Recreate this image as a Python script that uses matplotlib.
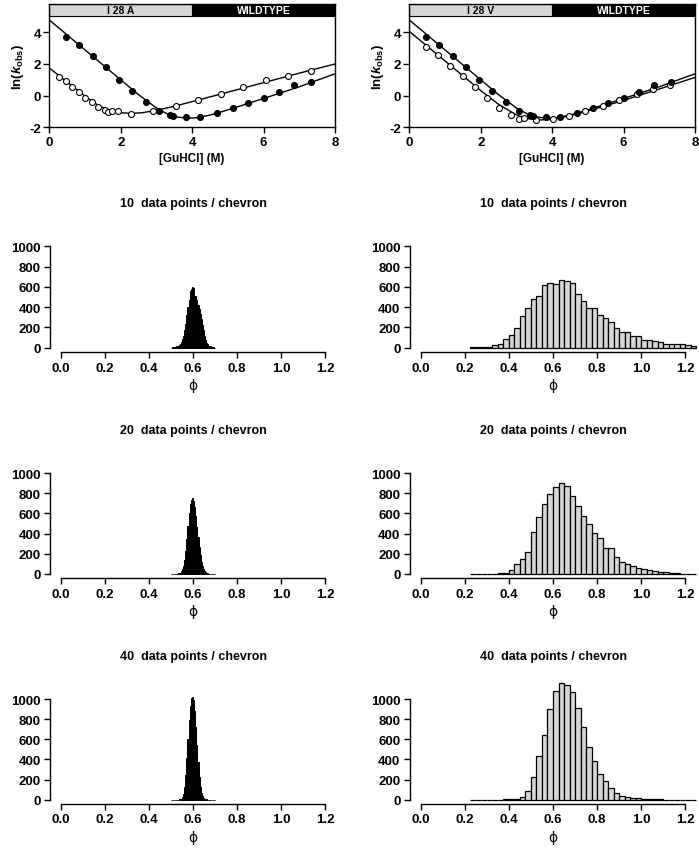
"""
Chevron plots (I28A / I28V vs wildtype) and bootstrap phi-value histograms
for 10, 20 and 40 data points per chevron.

Writes: out.png
"""

import numpy as np
import matplotlib
matplotlib.use("Agg")
import matplotlib.pyplot as plt
from matplotlib.patches import Rectangle

plt.rcParams["font.family"] = ["Liberation Sans", "DejaVu Sans"]
plt.rcParams["font.weight"] = "bold"
plt.rcParams["mathtext.fontset"] = "custom"
plt.rcParams["mathtext.rm"] = "Liberation Sans:bold"
plt.rcParams["mathtext.it"] = "Liberation Sans:italic:bold"
plt.rcParams["mathtext.bf"] = "Liberation Sans:bold"

W, H = 699, 853

# --- chevron data: [GuHCl] (M) and ln(k_obs) ---------------------------------
WT_X = [0.46, 0.83, 1.21, 1.59, 1.95, 2.32, 2.70, 3.07, 3.38, 3.45, 3.82,
        4.22, 4.69, 5.13, 5.55, 6.00, 6.43, 6.86, 7.32]
WT_Y = [3.73, 3.20, 2.53, 1.79, 1.01, 0.29, -0.42, -0.98, -1.22, -1.30, -1.38,
        -1.33, -1.08, -0.79, -0.46, -0.14, 0.26, 0.65, 0.86]
WT_FIT_X = [0.0, 1.0, 2.0, 2.5, 3.0, 3.3, 3.6, 3.9, 4.2, 4.6, 5.0, 6.0, 7.0, 8.0]
WT_FIT_Y = [4.78, 2.89, 1.00, 0.06, -0.78, -1.15, -1.36, -1.43, -1.38, -1.17,
            -0.90, -0.18, 0.56, 1.38]

A_X = [0.28, 0.46, 0.64, 0.83, 1.01, 1.19, 1.37, 1.56, 1.65, 1.75, 1.93,
       2.29, 2.89, 3.55, 4.17, 4.80, 5.42, 6.06, 6.69, 7.32]
A_Y = [1.20, 0.90, 0.57, 0.25, -0.13, -0.42, -0.69, -0.90, -1.05, -0.95, -0.99,
       -1.16, -0.95, -0.63, -0.25, 0.11, 0.53, 1.00, 1.26, 1.54]
A_FIT_X = [0.0, 0.5, 1.0, 1.4, 1.7, 2.0, 2.3, 2.6, 3.0, 3.5, 4.0, 5.0, 6.0, 7.0, 8.0]
A_FIT_Y = [1.75, 0.86, -0.03, -0.66, -0.94, -1.08, -1.12, -1.08, -0.93, -0.67,
           -0.38, 0.22, 0.82, 1.42, 2.00]

V_X = [0.47, 0.81, 1.14, 1.49, 1.84, 2.17, 2.51, 2.85, 3.08, 3.22, 3.54,
       4.01, 4.48, 4.92, 5.41, 5.88, 6.37, 6.82, 7.30]
V_Y = [3.06, 2.55, 1.90, 1.25, 0.55, -0.15, -0.75, -1.20, -1.45, -1.42, -1.55,
       -1.50, -1.30, -1.00, -0.65, -0.28, 0.12, 0.45, 0.65]
V_FIT_X = [0.0, 1.0, 2.0, 2.5, 3.0, 3.3, 3.6, 4.0, 4.5, 5.0, 6.0, 7.0, 8.0]
V_FIT_Y = [4.06, 2.19, 0.32, -0.55, -1.22, -1.45, -1.54, -1.50, -1.27, -0.97,
           -0.30, 0.42, 1.15]

# --- phi histograms ----------------------------------------------------------
NARROW_BINS = np.round(np.arange(0.500, 0.700, 0.005), 3)   # 40 bins
WIDE_BINS = np.round(np.arange(0.225, 1.250, 0.025), 3)     # 41 bins

# I28A (narrow phi distribution)
A10 = [2, 3, 4, 6, 9, 13, 18, 26, 38, 60, 85, 120, 170, 235, 320, 400, 470,
       560, 580, 600, 590, 510, 505, 470, 420, 380, 330, 280, 220, 170, 115,
       80, 50, 35, 22, 15, 10, 6, 4, 2]
A20 = [0, 0, 1, 1, 2, 3, 5, 8, 14, 25, 45, 80, 140, 230, 350, 480, 600, 690,
       735, 750, 720, 660, 570, 470, 370, 270, 185, 120, 75, 45, 27, 16, 9, 5,
       3, 2, 1, 1, 0, 0]
A40 = [0, 0, 0, 0, 0, 0, 1, 2, 4, 10, 25, 60, 130, 250, 410, 600, 790, 930,
       1010, 1025, 990, 880, 720, 540, 370, 230, 130, 70, 35, 16, 8, 4, 2, 1,
       0, 0, 0, 0, 0, 0]

# I28V (wide phi distribution)
V10 = [3, 5, 7, 10, 25, 40, 85, 130, 190, 315, 388, 480, 513, 618, 641, 625,
       671, 658, 635, 530, 457, 395, 395, 326, 293, 250, 197, 151, 151, 112,
       112, 79, 79, 66, 53, 33, 40, 33, 33, 26, 22]
V20 = [1, 1, 2, 2, 3, 5, 13, 40, 95, 145, 220, 412, 564, 696, 789, 861, 898,
       875, 769, 677, 578, 495, 403, 353, 254, 254, 165, 122, 96, 76, 56, 50,
       43, 30, 23, 16, 10, 6, 4, 3, 2]
V40 = [1, 1, 1, 1, 1, 1, 2, 5, 10, 30, 85, 225, 435, 645, 905, 1075, 1159,
       1139, 1065, 910, 725, 520, 385, 255, 185, 112, 66, 40, 25, 18, 13, 10,
       3, 2, 2, 1, 1, 1, 1, 1, 1]

ROWS = [("10  data points / chevron", A10, V10),
        ("20  data points / chevron", A20, V20),
        ("40  data points / chevron", A40, V40)]

PHI_TICKS = [0.0, 0.2, 0.4, 0.6, 0.8, 1.0, 1.2]
COUNT_TICKS = [0, 200, 400, 600, 800, 1000]
GREY = "#d6d6d6"
TICK_FS = 9.5


def px_axes(fig, left, top, right, bottom):
    return fig.add_axes([left / W, 1 - bottom / H, (right - left) / W,
                         (bottom - top) / H])


def chevron(fig, box, mutant_label, mx, my, mfx, mfy):
    ax = px_axes(fig, *box)
    ax.plot(WT_FIT_X, WT_FIT_Y, color="black", lw=1.0)
    ax.plot(mfx, mfy, color="black", lw=1.0)
    ax.plot(mx, my, "o", ms=4.3, mfc="white", mec="black", mew=0.8)
    ax.plot(WT_X, WT_Y, "o", ms=4.3, mfc="black", mec="black", mew=0.8)
    ax.set_xlim(0, 8)
    ax.set_ylim(-2, 5.8)
    ax.set_xticks([0, 2, 4, 6, 8])
    ax.set_yticks([-2, 0, 2, 4])
    ax.set_yticklabels(["-2", "0", "2", "4"])
    ax.tick_params(direction="out", length=4, width=1, labelsize=TICK_FS, pad=2)
    for s in ax.spines.values():
        s.set_linewidth(1.0)
    # label bar along the top
    ax.add_patch(Rectangle((0, 5.05), 4, 0.75, facecolor=GREY,
                           edgecolor="black", lw=0.8))
    ax.add_patch(Rectangle((4, 5.05), 4, 0.75, facecolor="black",
                           edgecolor="black", lw=0.8))
    ax.text(2, 5.42, mutant_label, ha="center", va="center", fontsize=7.5,
            fontweight="bold", color="black")
    ax.text(6, 5.42, "WILDTYPE", ha="center", va="center", fontsize=7.5,
            fontweight="bold", color="white")
    ax.set_xlabel("[GuHCl] (M)", fontsize=8.5, fontweight="bold", labelpad=3)
    ax.set_ylabel(r"ln($\mathit{k}_{\mathrm{obs}}$)", fontsize=9.5,
                  fontweight="bold", labelpad=2)
    return ax


def histogram(fig, box, title, bins, counts, width, face, lw):
    ax = px_axes(fig, *box)
    ax.bar(bins, counts, width=width, align="edge", color=face,
           edgecolor="black", linewidth=lw, clip_on=False)
    ax.set_xlim(-0.048, 1.248)
    ax.set_ylim(-40, 1040)
    for side in ("top", "right"):
        ax.spines[side].set_visible(False)
    ax.spines["left"].set_bounds(0, 1000)
    ax.spines["bottom"].set_bounds(0, 1.2)
    for side in ("left", "bottom"):
        ax.spines[side].set_linewidth(1.0)
    ax.set_xticks(PHI_TICKS)
    ax.set_xticklabels([f"{t:.1f}" for t in PHI_TICKS])
    ax.set_yticks(COUNT_TICKS)
    ax.tick_params(direction="out", length=4, width=1, labelsize=TICK_FS, pad=3)
    ax.set_title(title, fontsize=9, fontweight="bold", pad=26)
    ax.set_xlabel("\u03d5", fontsize=10, fontweight="normal",
                  family="DejaVu Sans", labelpad=3)
    return ax


def main():
    fig = plt.figure(figsize=(W / 100, H / 100), dpi=100)

    chevron(fig, (49.3, 4.8, 335.0, 128.3), "I 28 A", A_X, A_Y, A_FIT_X, A_FIT_Y)
    chevron(fig, (409.3, 4.8, 695.0, 128.3), "I 28 V", V_X, V_Y, V_FIT_X, V_FIT_Y)

    row_boxes = [(243.2, 352.8), (470.0, 579.0), (696.0, 804.7)]
    for (title, a_counts, v_counts), (top, bottom) in zip(ROWS, row_boxes):
        histogram(fig, (50.4, top, 335.6, bottom), title, NARROW_BINS,
                  a_counts, 0.005, "black", 0.7)
        histogram(fig, (410.1, top, 695.9, bottom), title, WIDE_BINS,
                  v_counts, 0.025, GREY, 0.9)

    fig.savefig("out.png", dpi=100)
    plt.close(fig)


if __name__ == "__main__":
    main()
